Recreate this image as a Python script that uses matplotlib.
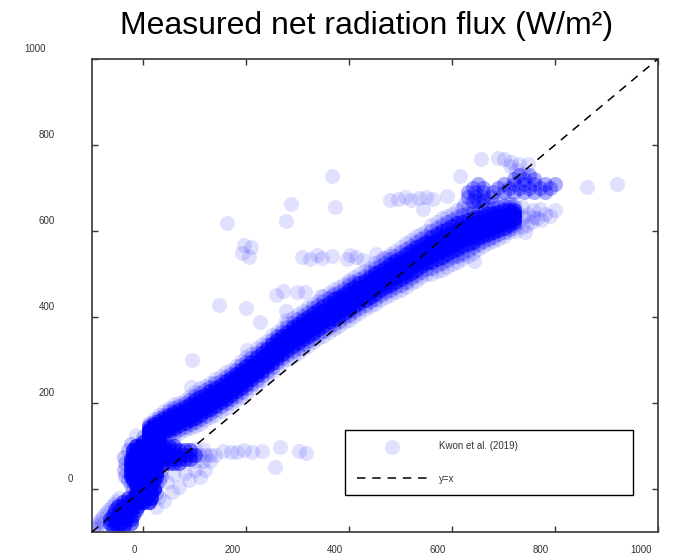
import matplotlib
matplotlib.use("Agg")
import matplotlib.pyplot as plt
import numpy as np
from matplotlib.transforms import ScaledTranslation

plt.rcParams['font.family'] = ['Liberation Sans', 'DejaVu Sans']

# dense patches: {y: [x, ...]}, each spot holding `count` readings
low_blob = {-90: [-60, -50, -40],
            -80: [-65, -55, -45, -35, -25],
            -70: [-65, -55, -45, -35, -25],
            -60: [-60, -50, -40, -30, -20],
            -50: [-55, -45, -35, -25, -15],
            -40: [-50, -40, -30, -20, -10],
            -30: [-40, -30, -20, -10],
            -20: [-30, -20, -10]}
column = {-30: [-10, 0, 10],
          -20: [-15, -5, 5, 15],
          -10: [-15, -5, 5, 15],
          0: [-10, 0, 10, 20],
          10: [-15, -5, 5, 15],
          20: [-20, -10, 0, 10, 20],
          30: [-25, -15, -5, 5, 15, 25],
          40: [-25, -15, -5, 5, 15, 25],
          50: [-25, -15, -5, 5, 15, 25],
          60: [-25, -15, -5, 5, 15, 25],
          70: [-25, -15, -5, 5, 15, 25],
          80: [-20, -10, 0, 10, 20, 30],
          90: [-20, -10, 0, 10, 20, 30],
          100: [-15, -5, 5, 15, 25],
          110: [0, 10, 20, 30],
          120: [10, 20]}
column_edge = {-10: [25],
               0: [-20, 20],
               10: [-25, 25],
               20: [-30, 30],
               30: [-35, 35],
               45: [-38, 35],
               60: [-35, 35],
               75: [-38, 35],
               90: [-30, 38],
               105: [-25, 35],
               120: [0, 30]}
arm = {60: [40, 50, 60, 70],
       70: [40, 50, 60, 70, 80, 90],
       80: [40, 50, 60, 70, 80, 90, 100],
       90: [40, 50, 60, 70, 80, 90],
       100: [40, 50, 60]}
arm_light = {65: [100, 115, 130],
             80: [110, 120, 130, 140],
             92: [100, 115]}
upper = {670: [640, 650, 660],
         680: [630, 645, 660, 675],
         690: [630, 645, 660, 680, 700, 720, 740, 760, 780],
         700: [640, 660, 690, 710, 730, 750, 770, 790],
         710: [650, 700, 720, 740, 760, 780, 800],
         720: [720, 740, 760],
         730: [730, 750]}

# main band: column centre and half-spread of the readings, every 10 W/m²
band_x = [10, 20, 30, 40, 50, 60, 70, 80, 90, 100, 110, 120, 130, 140, 150, 160, 170, 180,
          190, 200, 210, 220, 230, 240, 250, 260, 270, 280, 290, 300, 310, 320, 330, 340,
          350, 360, 370, 380, 390, 400, 410, 420, 430, 440, 450, 460, 470, 480, 490, 500,
          510, 520, 530, 540, 550, 560, 570, 580, 590, 600, 610, 620, 630, 640, 650, 660,
          670, 680, 690, 700, 710, 720]
band_mid = [132, 137, 142, 148, 154, 160, 166, 172, 179, 186, 193, 200, 207, 214, 222, 230,
            238, 247, 256, 265, 275, 285, 295, 305, 315, 325, 335, 345, 354, 362, 370, 378,
            386, 394, 402, 410, 418, 425, 432, 440, 448, 455, 462, 470, 478, 485, 492, 499,
            506, 513, 520, 528, 536, 543, 550, 557, 564, 570, 576, 582, 588, 593, 598, 603,
            608, 612, 616, 620, 624, 628, 631, 634]
band_hw = [22, 26, 30, 33, 35, 37, 35, 36, 38, 40, 41, 39, 40, 42, 40, 41, 39, 40, 42, 41,
           40, 42, 41, 40, 43, 41, 40, 42, 44, 45, 44, 46, 45, 44, 46, 45, 47, 45, 44, 46,
           45, 46, 44, 45, 47, 46, 45, 47, 48, 50, 51, 50, 52, 50, 51, 56, 58, 60, 59, 58,
           60, 58, 57, 55, 50, 46, 45, 44, 42, 40, 34, 28]
band_offsets = [-1, -0.75, -0.5, -0.25, 0, 0.25, 0.5, 0.75, 1]
band_counts = [1, 2, 6, 9, 10, 9, 6, 2, 1]

# single readings
tail = [(-98, -92), (-93, -84), (-88, -76), (-83, -69), (-78, -62), (-73, -55), (-68, -48),
        (-63, -41), (-58, -34), (-53, -27), (-48, -20), (-90, -90), (-80, -80)]
band_end = [(725, 600), (728, 622), (726, 645), (735, 610), (738, 632), (736, 655),
            (745, 615), (748, 640), (755, 622), (758, 648), (765, 630), (772, 625),
            (770, 652), (780, 640), (790, 635), (800, 650), (742, 598), (712, 662),
            (690, 770), (712, 752), (725, 742), (738, 732)]
singles = [(-14, 126), (95, 301), (93, 238), (147, 429), (200, 422), (226, 389), (202, 324),
           (162, 618), (278, 623), (286, 663), (372, 656), (366, 728),
           (196, 567), (210, 562), (191, 548), (206, 539),
           (257, 452), (272, 460), (298, 457), (315, 458), (346, 448), (366, 448), (399, 481),
           (278, 413), (278, 394), (259, 355),
           (309, 540), (323, 535), (337, 545), (348, 538), (366, 542), (395, 536), (401, 544),
           (414, 540), (426, 533), (453, 546), (465, 538), (479, 541), (492, 536),
           (479, 672), (494, 675), (508, 678), (521, 673), (535, 676), (549, 680), (563, 674),
           (543, 651), (621, 656), (591, 681), (615, 728), (624, 663), (657, 768), (700, 768),
           (715, 760), (730, 757), (748, 755), (862, 702), (920, 709), (642, 530), (620, 545),
           (757, 632),
           (155, 88), (170, 86), (181, 86), (195, 90), (212, 86), (231, 88), (265, 98),
           (255, 51), (303, 89), (317, 84),
           (25, -42), (31, -19), (45, 16), (55, -8), (70, 5), (89, 21), (109, 28), (100, 45),
           (60, 35), (40, -28), (80, 38), (120, 45)]

x_ticks = [0, 200, 400, 600, 800, 1000]
y_ticks = [0, 200, 400, 600, 800, 1000]


def patch_points(rows, count):
    px, py = [], []
    for y, xl in rows.items():
        for x in xl:
            px += [x] * count
            py += [y] * count
    return px, py


xs, ys = [], []
for rows, cnt in ((low_blob, 6), (column, 9), (column_edge, 2), (arm, 5), (arm_light, 1),
                  (upper, 3)):
    px, py = patch_points(rows, cnt)
    xs += px
    ys += py
for x, m, h in zip(band_x, band_mid, band_hw):
    for o, c in zip(band_offsets, band_counts):
        xs += [x] * c
        ys += [m + h * o] * c
for x, y in tail + band_end + singles:
    xs.append(x)
    ys.append(y)

fig = plt.figure(figsize=(6.74, 5.57), dpi=100)
ax = fig.add_axes([0.1365, 0.045, 0.8395, 0.849])

ax.scatter(xs, ys, s=117, color='blue', alpha=0.12, linewidths=0, label='Kwon et al. (2019)')
ax.plot([-100, 1000], [-100, 1000], color='black', lw=1.1, dashes=(5.5, 4.5), label='y=x', zorder=3)

ax.set_xlim(-100, 1000)
ax.set_ylim(-100, 1000)
ax.set_xticks(x_ticks)
ax.set_yticks(y_ticks)
ax.tick_params(direction='in', length=4.5, width=1, color='#333333', top=True, right=True,
               labelbottom=False, labelleft=False)
for sp in ax.spines.values():
    sp.set_color('#444444')
    sp.set_linewidth(1.3)

# tick labels sit a little off their ticks
for v in x_ticks:
    off = ScaledTranslation(-0.06, -0.18, fig.dpi_scale_trans)
    ax.text(v, 0, str(v), transform=ax.get_xaxis_transform() + off, ha='right', va='center',
            fontsize=7, color='#333333')
for v in y_ticks:
    lab = str(v)
    off = ScaledTranslation(-(10 + 9 * len(lab)) / 100, 0.10, fig.dpi_scale_trans)
    ax.text(0, v, lab, transform=ax.get_yaxis_transform() + off, ha='right', va='center',
            fontsize=7, color='#333333')

ax.set_title('Measured net radiation flux (W/m²)', fontsize=23, pad=18, x=0.486)

leg = ax.legend(loc='upper left', bbox_to_anchor=(0.447, 0.216, 0.509, 0.0), mode='expand',
                fontsize=7, handlelength=7.3, handletextpad=1.2, labelspacing=2.3,
                borderpad=1.2, borderaxespad=0, fancybox=False, framealpha=1,
                edgecolor='black', scatterpoints=1)
leg.get_frame().set_linewidth(1.0)
for t in leg.get_texts():
    t.set_color('#333333')

fig.savefig('out.png', dpi=100)
